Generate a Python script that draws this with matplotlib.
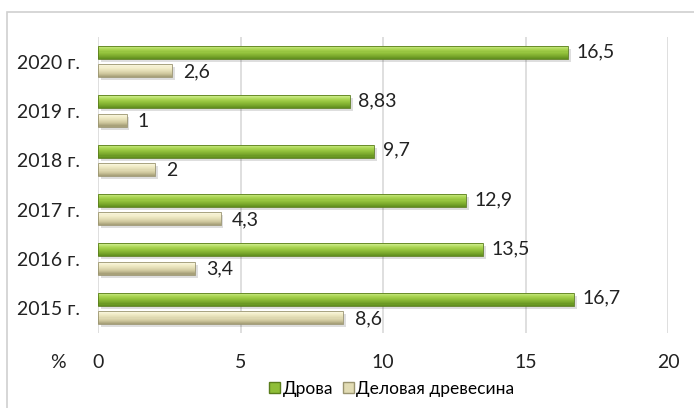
import matplotlib
matplotlib.use("Agg")
import matplotlib.pyplot as plt
import numpy as np
from matplotlib.patches import Rectangle, Patch
from matplotlib.colors import to_rgb

plt.rcParams['font.family'] = ['Lato', 'DejaVu Sans']

years = ["2015 г.", "2016 г.", "2017 г.", "2018 г.", "2019 г.", "2020 г."]
firewood = [16.7, 13.5, 12.9, 9.7, 8.83, 16.5]
timber = [8.6, 3.4, 4.3, 2.0, 1.0, 2.6]
firewood_labels = ["16,7", "13,5", "12,9", "9,7", "8,83", "16,5"]
timber_labels = ["8,6", "3,4", "4,3", "2", "1", "2,6"]
series_names = ["Дрова", "Деловая древесина"]
x_ticks = [0, 5, 10, 15, 20]

fig = plt.figure(figsize=(6.94, 4.08), dpi=100)
fig.patch.set_facecolor("white")

# outer frame of the chart area
fig.patches.append(Rectangle((7 / 694, -0.1), 1.0, (408 - 12) / 408 + 0.1,
                             transform=fig.transFigure, fill=False,
                             edgecolor="#d0d0d0", linewidth=1.2))

ax = fig.add_axes([98 / 694, 1 - 333 / 408, (668 - 98) / 694, (333 - 37) / 408])

y = np.arange(len(years))
h = 0.26
off = 0.185

green_stops = ["#c8e982", "#aad552", "#93c23c", "#7dab2e", "#62901f"]
beige_stops = ["#fbf8e2", "#f1ecc8", "#e2dcb4", "#cdc69c", "#a8a17a"]


def gradient(stops, n):
    cols = np.array([to_rgb(c) for c in stops])
    t = np.linspace(0, 1, n)
    pos = np.linspace(0, 1, len(stops))
    return [tuple(np.interp(tt, pos, cols[:, k]) for k in range(3)) for tt in t]


def draw_series(vals, ypos, stops, edge):
    vals = np.asarray(vals)
    # soft drop shadow
    ax.barh(ypos - 0.06, vals, height=h, left=0.1, color="#000000", alpha=0.13,
            zorder=2, linewidth=0)
    n = 12
    cols = gradient(stops, n)
    strip = h / n
    for k in range(n):
        yc = ypos + h / 2 - strip * (k + 0.5)
        ax.barh(yc, vals, height=strip * 1.05, color=cols[k], linewidth=0, zorder=3)
    ax.barh(ypos, vals, height=h, fill=False, edgecolor=edge, linewidth=0.6, zorder=4)


draw_series(firewood, y + off, green_stops, "#5a7d1c")
draw_series(timber, y - off, beige_stops, "#9a9470")

for i in range(len(years)):
    ax.text(firewood[i] + 0.3, y[i] + off + 0.02, firewood_labels[i], va="center", ha="left",
            fontsize=14, color="#222222", zorder=5)
    ax.text(timber[i] + 0.4, y[i] - off - 0.02, timber_labels[i], va="center", ha="left",
            fontsize=14, color="#222222", zorder=5)

ax.set_xlim(0, 20)
ax.set_ylim(-0.5, len(years) - 0.5)
ax.set_xticks(x_ticks)
ax.set_xticklabels([str(t) for t in x_ticks], fontsize=14, color="#222222")
ax.set_yticks(y)
ax.set_yticklabels(years, fontsize=14, color="#222222")
ax.tick_params(axis="both", length=0)
ax.tick_params(axis="x", pad=15)
ax.tick_params(axis="y", pad=13)
ax.grid(axis="x", color="#d9d9d9", linewidth=1.2, zorder=0)
ax.set_axisbelow(True)
for s in ax.spines.values():
    s.set_visible(False)

fig.text(50 / 694, 1 - 363 / 408, "%", fontsize=14, color="#222222", va="center", ha="left")

handles = [Patch(facecolor="#8fbe38", edgecolor="#5a7d1c"),
           Patch(facecolor="#e2dcb4", edgecolor="#9a9470")]
fig.legend(handles, series_names, loc="center", bbox_to_anchor=(392 / 694, 1 - 389 / 408),
           ncol=2, frameon=False, fontsize=12.5, handlelength=0.6, handleheight=0.6,
           handletextpad=0.15, columnspacing=0.6)

fig.savefig("out.png", dpi=100)
